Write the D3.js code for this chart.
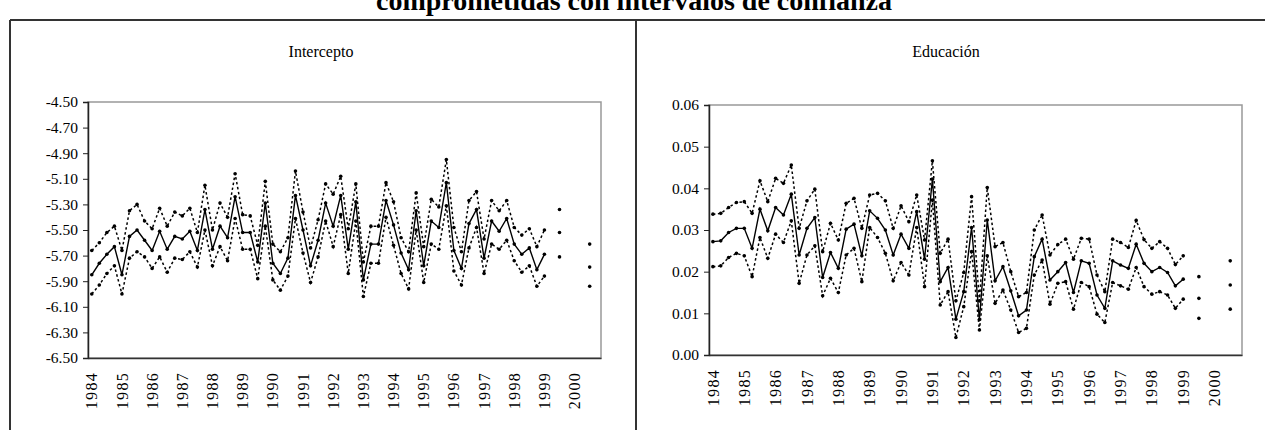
<!DOCTYPE html>
<html>
  <head>
    <meta charset="utf-8">
    <title>Intervalos de confianza</title>
    <script src="https://d3js.org/d3.v7.min.js"></script>
    <style>
      body { margin: 0; background: #fff; }
      svg { display: block; font-family: "Liberation Serif", "Times New Roman", serif; }
      .tick text { font-family: "Liberation Serif", "Times New Roman", serif; font-size: 15.5px; fill: #000; }
    </style>
  </head>
  <body>
    <svg id="chart" width="1265" height="430"></svg>
    <script>
      // tick labels (one per year, four quarters each)
      var years = ["1984", "1985", "1986", "1987", "1988", "1989", "1990", "1991", "1992",
                   "1993", "1994", "1995", "1996", "1997", "1998", "1999", "2000"];
      var quarters = ["T1", "T2", "T3", "T4"];
      var interTicks = [-6.5, -6.3, -6.1, -5.9, -5.7, -5.5, -5.3, -5.1, -4.9, -4.7, -4.5];
      var eduTicks = [0, 0.01, 0.02, 0.03, 0.04, 0.05, 0.06];

      // Intercepto: estimate and bounds
      var interEst = [-5.85, -5.76, -5.69, -5.63, -5.85, -5.55, -5.50, -5.58, -5.66, -5.51,
                      -5.65, -5.55, -5.57, -5.51, -5.66, -5.34, -5.65, -5.47, -5.56, -5.24,
                      -5.52, -5.52, -5.75, -5.29, -5.76, -5.84, -5.72, -5.23, -5.50, -5.78,
                      -5.58, -5.29, -5.47, -5.23, -5.65, -5.28, -5.89, -5.61, -5.61, -5.27,
                      -5.46, -5.68, -5.81, -5.35, -5.78, -5.43, -5.48, -5.13, -5.66, -5.80,
                      -5.45, -5.34, -5.72, -5.43, -5.51, -5.41, -5.61, -5.69, -5.64, -5.81,
                      -5.69, null, -5.52, null, null, null, -5.79, null];
      var interUpper = [-5.66, -5.60, -5.52, -5.47, -5.66, -5.35, -5.30, -5.43, -5.49, -5.33,
                        -5.47, -5.36, -5.39, -5.33, -5.52, -5.15, -5.50, -5.29, -5.40, -5.06,
                        -5.38, -5.39, -5.62, -5.12, -5.61, -5.67, -5.56, -5.04, -5.36, -5.64,
                        -5.42, -5.14, -5.22, -5.08, -5.49, -5.14, -5.75, -5.47, -5.47, -5.13,
                        -5.28, -5.56, -5.67, -5.21, -5.63, -5.26, -5.32, -4.95, -5.48, -5.67,
                        -5.27, -5.20, -5.57, -5.27, -5.35, -5.27, -5.48, -5.54, -5.49, -5.63,
                        -5.50, null, -5.34, null, null, null, -5.61, null];
      var interLower = [-6.00, -5.93, -5.84, -5.78, -6.00, -5.72, -5.67, -5.71, -5.80, -5.71,
                        -5.83, -5.72, -5.73, -5.67, -5.79, -5.50, -5.78, -5.63, -5.74, -5.41,
                        -5.65, -5.65, -5.88, -5.47, -5.89, -5.97, -5.86, -5.41, -5.68, -5.91,
                        -5.71, -5.43, -5.63, -5.38, -5.84, -5.43, -6.02, -5.76, -5.76, -5.40,
                        -5.62, -5.84, -5.96, -5.50, -5.91, -5.61, -5.65, -5.31, -5.82, -5.93,
                        -5.64, -5.48, -5.84, -5.61, -5.65, -5.58, -5.74, -5.83, -5.78, -5.94,
                        -5.86, null, -5.71, null, null, null, -5.94, null];

      // Educación: estimate and bounds
      var eduEst = [0.0272, 0.0274, 0.0294, 0.0304, 0.0304, 0.0256, 0.0350, 0.0298, 0.0354, 0.0336,
                    0.0386, 0.0240, 0.0304, 0.0330, 0.0186, 0.0246, 0.0208, 0.0302, 0.0314, 0.0238,
                    0.0346, 0.0328, 0.0300, 0.0240, 0.0290, 0.0256, 0.0344, 0.0230, 0.0422, 0.0176,
                    0.0210, 0.0086, 0.0152, 0.0306, 0.0085, 0.0324, 0.0178, 0.0212, 0.0154, 0.0094,
                    0.0108, 0.0236, 0.0278, 0.0180, 0.0200, 0.0222, 0.0150, 0.0226, 0.0220, 0.0144,
                    0.0112, 0.0226, 0.0216, 0.0208, 0.0266, 0.0220, 0.0200, 0.0210, 0.0198, 0.0166,
                    0.0182, null, 0.0136, null, null, null, 0.0168, null];
      var eduUpper = [0.0338, 0.0340, 0.0354, 0.0366, 0.0368, 0.0340, 0.0418, 0.0368, 0.0424, 0.0412,
                      0.0456, 0.0304, 0.0370, 0.0398, 0.0248, 0.0316, 0.0276, 0.0364, 0.0376, 0.0304,
                      0.0384, 0.0388, 0.0370, 0.0304, 0.0358, 0.0320, 0.0384, 0.0276, 0.0466, 0.0244,
                      0.0278, 0.0130, 0.0198, 0.0380, 0.0130, 0.0402, 0.0260, 0.0270, 0.0200, 0.0140,
                      0.0150, 0.0300, 0.0336, 0.0240, 0.0265, 0.0278, 0.0230, 0.0280, 0.0278, 0.0192,
                      0.0152, 0.0278, 0.0270, 0.0258, 0.0323, 0.0277, 0.0256, 0.0272, 0.0256, 0.0217,
                      0.0238, null, 0.0188, null, null, null, 0.0226, null];
      var eduLower = [0.0212, 0.0214, 0.0234, 0.0244, 0.0238, 0.0188, 0.0282, 0.0232, 0.0290, 0.0270,
                      0.0322, 0.0172, 0.0240, 0.0262, 0.0142, 0.0184, 0.0150, 0.0240, 0.0256, 0.0176,
                      0.0306, 0.0282, 0.0244, 0.0178, 0.0222, 0.0192, 0.0306, 0.0164, 0.0372, 0.0120,
                      0.0152, 0.0042, 0.0116, 0.0248, 0.0060, 0.0238, 0.0124, 0.0156, 0.0108, 0.0054,
                      0.0064, 0.0192, 0.0228, 0.0122, 0.0172, 0.0176, 0.0110, 0.0174, 0.0164, 0.0098,
                      0.0078, 0.0174, 0.0166, 0.0158, 0.0210, 0.0164, 0.0146, 0.0152, 0.0144, 0.0112,
                      0.0134, null, 0.0088, null, null, null, 0.0110, null];

      // one category per quarter
      var categories = [];
      years.forEach(function(y) { quarters.forEach(function(q) { categories.push(y + q); }); });

      var svg = d3.select("#chart");

      // cut-off figure title
      svg.append("text")
        .attr("x", 634)
        .attr("y", 10)
        .attr("text-anchor", "middle")
        .style("font-size", "28px")
        .style("font-weight", "bold")
        .text("comprometidas con intervalos de confianza");

      // outer frame
      var frameTop = 20;
      var frame = svg.append("g").attr("stroke", "#333").attr("stroke-width", 2);
      frame.append("line").attr("x1", 10).attr("x2", 1265).attr("y1", frameTop).attr("y2", frameTop);
      frame.append("line").attr("x1", 10).attr("x2", 10).attr("y1", frameTop).attr("y2", 430);
      frame.append("line").attr("x1", 636).attr("x2", 636).attr("y1", frameTop).attr("y2", 430);

      var panels = [
        { title: "Intercepto", titleX: 321, left: 88, right: 601, top: 102, bottom: 358,
          domain: [-6.5, -4.5], ticks: interTicks, est: interEst, upper: interUpper, lower: interLower },
        { title: "Educación", titleX: 946, left: 709, right: 1242, top: 105, bottom: 355,
          domain: [0, 0.06], ticks: eduTicks, est: eduEst, upper: eduUpper, lower: eduLower }
      ];

      panels.forEach(function(p) {
        var g = svg.append("g");

        g.append("text")
          .attr("x", p.titleX)
          .attr("y", 57)
          .attr("text-anchor", "middle")
          .style("font-size", "16px")
          .text(p.title);

        var x = d3.scaleBand().domain(categories).range([p.left, p.right]).padding(0);
        var y = d3.scaleLinear().domain(p.domain).range([p.bottom, p.top]);
        var cx = function(i) { return x(categories[i]) + x.bandwidth() / 2; };

        // plot area border
        g.append("rect")
          .attr("x", p.left).attr("y", p.top)
          .attr("width", p.right - p.left).attr("height", p.bottom - p.top)
          .attr("fill", "none").attr("stroke", "#999").attr("stroke-width", 1.5);

        // y axis
        var yAxis = g.append("g")
          .attr("transform", "translate(" + p.left + ",0)")
          .call(d3.axisLeft(y).tickValues(p.ticks).tickSizeOuter(0).tickSize(5).tickPadding(5)
            .tickFormat(function(d) { return d.toFixed(2); }));
        yAxis.select(".domain").attr("stroke", "#222").attr("stroke-width", 1.5);
        yAxis.selectAll(".tick line").attr("stroke", "#222");

        // x axis, a label every four quarters
        var xAxis = g.append("g")
          .attr("transform", "translate(0," + p.bottom + ")")
          .call(d3.axisBottom(x)
            .tickValues(categories.filter(function(c, i) { return i % 4 === 0; }))
            .tickSize(0).tickSizeOuter(0)
            .tickFormat(function(c) { return c.slice(0, 4); }));
        xAxis.select(".domain").attr("stroke", "#333").attr("stroke-width", 1.5);
        xAxis.selectAll(".tick text")
          .attr("transform", "rotate(-90)")
          .attr("text-anchor", "end")
          .attr("x", -14)
          .attr("y", 0)
          .attr("dy", "0.35em")
          .style("font-size", "16px")
          .style("letter-spacing", "1.3px");

        var line = d3.line()
          .defined(function(d) { return d !== null; })
          .x(function(d, i) { return cx(i); })
          .y(function(d) { return y(d); });

        [p.upper, p.lower].forEach(function(s) {
          g.append("path")
            .datum(s)
            .attr("d", line)
            .attr("fill", "none")
            .attr("stroke", "#000")
            .attr("stroke-width", 1.5)
            .attr("stroke-dasharray", "2.5,2.5");
        });
        g.append("path")
          .datum(p.est)
          .attr("d", line)
          .attr("fill", "none")
          .attr("stroke", "#000")
          .attr("stroke-width", 1.4);

        // markers
        [p.upper, p.est, p.lower].forEach(function(s) {
          g.append("g").selectAll("circle")
            .data(s.map(function(v, i) { return { v: v, i: i }; }).filter(function(d) { return d.v !== null; }))
            .enter().append("circle")
              .attr("cx", function(d) { return cx(d.i); })
              .attr("cy", function(d) { return y(d.v); })
              .attr("r", 1.8)
              .attr("fill", "#000");
        });
      });
    </script>
  </body>
</html>
